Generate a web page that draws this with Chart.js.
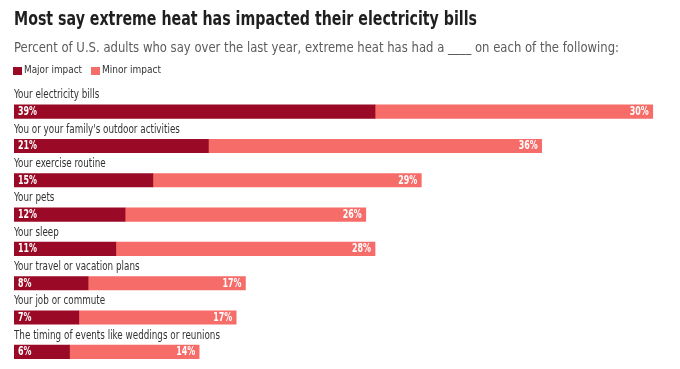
<!DOCTYPE html>
<html>
<head>
<meta charset="utf-8">
<script src="https://cdn.jsdelivr.net/npm/chart.js@4"></script>
<style>
  html, body { margin:0; padding:0; background:#fff; }
  #wrap { position:relative; width:680px; height:369px; overflow:hidden; }
  #c { position:absolute; left:0; top:0; }
  .t { position:absolute; white-space:nowrap; line-height:0; display:inline-block; transform-origin:0 0; font-family:"DejaVu Sans Condensed","DejaVu Sans",sans-serif; }
  #title { left:14px; top:19.3px; font-weight:bold; font-size:19.5px; color:#1f1f1f; }
  #sub { left:14px; top:47.2px; font-size:14px; color:#5c5c5c; }
  .lg { top:70.2px; font-size:11px; color:#333; }
  .sw { position:absolute; top:67px; width:9px; height:8px; }
</style>
</head>
<body>
<div id="wrap">
  <canvas id="c" width="680" height="369"></canvas>
  <span class="t" id="title" data-w="463">Most say extreme heat has impacted their electricity bills</span>
  <span class="t" id="sub" data-w="605">Percent of U.S. adults who say over the last year, extreme heat has had a ____ on each of the following:</span>
  <div class="sw" id="sw0" style="left:13px"></div>
  <span class="t lg" id="lg0" style="left:24px" data-w="58"></span>
  <div class="sw" id="sw1" style="left:91px"></div>
  <span class="t lg" id="lg1" style="left:102px" data-w="59"></span>
</div>
<script>
const categories = [
  "Your electricity bills",
  "You or your family's outdoor activities",
  "Your exercise routine",
  "Your pets",
  "Your sleep",
  "Your travel or vacation plans",
  "Your job or commute",
  "The timing of events like weddings or reunions"
];
const majorImpact = [39, 21, 15, 12, 11, 8, 7, 6];
const minorImpact = [30, 36, 29, 26, 28, 17, 17, 14];
const seriesNames = ["Major impact", "Minor impact"];
const seriesColors = ["#9a0a26", "#f66c69"];

const FONT = '"DejaVu Sans Condensed","DejaVu Sans",sans-serif';

seriesNames.forEach((n, i) => {
  document.getElementById('lg' + i).textContent = n;
  document.getElementById('sw' + i).style.background = seriesColors[i];
});
document.querySelectorAll('.t[data-w]').forEach(el => {
  const w = el.getBoundingClientRect().width;
  el.style.transform = 'scaleX(' + (parseFloat(el.dataset.w) / w) + ')';
});

function drawScaled(ctx, txt, x, y, sx, align) {
  ctx.save();
  ctx.translate(x, y);
  ctx.scale(sx, 1);
  ctx.textAlign = align;
  ctx.fillText(txt, 0, 0);
  ctx.restore();
}

const labelPlugin = {
  id: 'labelPlugin',
  afterDatasetsDraw(chart) {
    const ctx = chart.ctx;
    ctx.save();
    const m0 = chart.getDatasetMeta(0);
    ctx.font = '11.5px ' + FONT;
    ctx.fillStyle = '#333';
    ctx.textBaseline = 'alphabetic';
    const catScale = 206 / ctx.measureText(categories[categories.length - 1]).width;
    m0.data.forEach((el, i) => {
      const top = el.y - el.height / 2;
      drawScaled(ctx, categories[i], chart.chartArea.left, top - 6.5, catScale, 'left');
    });
    ctx.font = 'bold 11.5px ' + FONT;
    ctx.fillStyle = '#fff';
    ctx.textBaseline = 'middle';
    const valScale = 19 / ctx.measureText('39%').width;
    chart.data.datasets.forEach((ds, di) => {
      const meta = chart.getDatasetMeta(di);
      meta.data.forEach((el, i) => {
        const txt = ds.data[i] + '%';
        if (di === 0) {
          drawScaled(ctx, txt, Math.min(el.base, el.x) + 4, el.y + 0.5, valScale, 'left');
        } else {
          drawScaled(ctx, txt, Math.max(el.base, el.x) - 4, el.y + 0.5, valScale, 'right');
        }
      });
    });
    ctx.restore();
  }
};

new Chart(document.getElementById('c'), {
  type: 'bar',
  data: {
    labels: categories,
    datasets: [
      { label: seriesNames[0], data: majorImpact, backgroundColor: seriesColors[0], barThickness: 13.5, borderWidth: 0 },
      { label: seriesNames[1], data: minorImpact, backgroundColor: seriesColors[1], barThickness: 13.5, borderWidth: 0 }
    ]
  },
  options: {
    indexAxis: 'y',
    responsive: false,
    animation: false,
    layout: { padding: { left: 14, right: 18, top: 94.5, bottom: 0 } },
    plugins: { legend: { display: false }, title: { display: false }, tooltip: { enabled: false } },
    scales: {
      x: { stacked: true, min: 0, max: 70, display: false },
      y: { stacked: true, display: false }
    }
  },
  plugins: [labelPlugin]
});
</script>
</body>
</html>
